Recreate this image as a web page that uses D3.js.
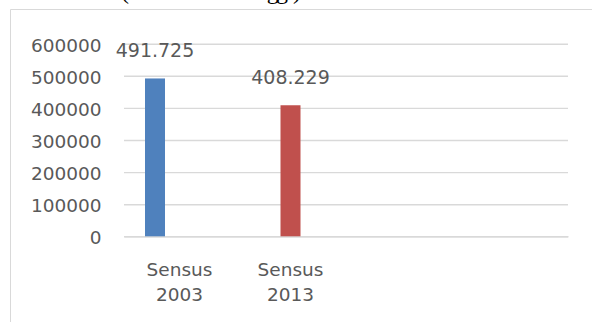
<!DOCTYPE html>
<html>
<head>
<meta charset="utf-8">
<script src="https://cdn.jsdelivr.net/npm/d3@7"></script>
<style>
  html, body { margin: 0; padding: 0; background: #fff; }
  svg { display: block; }
</style>
</head>
<body>
<svg id="chart" width="592" height="323"></svg>
<script>
// ---- data ----
const categories = ["Sensus 2003", "Sensus 2013", "", ""];
const seriesNames = ["Series 1", "Series 2", "Series 3"];
const series1 = [491725, null, null, null];
const series2 = [null, 408229, null, null];
const series3 = [null, null, null, null];
const yTicks = [0, 100000, 200000, 300000, 400000, 500000, 600000];
const seriesColors = ["#4f81bd", "#c0504d", "#9bbb59"];

const seriesValues = [series1, series2, series3];

const svg = d3.select("#chart");
const font = "'DejaVu Sans', sans-serif";
const textColor = "#595959";
const gridColor = "#d9d9d9";

// page text fragment cut off at the top (as in the reference)
svg.append("text")
  .attr("x", 121).attr("y", -1)
  .attr("textLength", 180)
  .attr("font-family", "'Liberation Serif', serif")
  .attr("font-size", 24)
  .attr("fill", "#000")
  .text("(Jumlah Rumah Tangga)");

// chart area border (top + left visible)
svg.append("line").attr("x1", 10.5).attr("x2", 600).attr("y1", 9.5).attr("y2", 9.5)
  .attr("stroke", gridColor).attr("stroke-width", 1);
svg.append("line").attr("x1", 10.5).attr("x2", 10.5).attr("y1", 9.5).attr("y2", 322)
  .attr("stroke", gridColor).attr("stroke-width", 1);

const plot = { left: 124, right: 568, top: 43.7, bottom: 236.3 };

const x0 = d3.scaleBand()
  .domain(d3.range(categories.length))
  .range([plot.left, plot.right])
  .padding(0);

const x1 = d3.scaleBand()
  .domain(seriesNames)
  .range([0, x0.bandwidth()])
  .paddingInner(0.1837)
  .paddingOuter(0.857);

const y = d3.scaleLinear()
  .domain([0, 600000])
  .range([plot.bottom, plot.top]);

// gridlines + y tick labels via axis
const yAxis = d3.axisLeft(y)
  .tickValues(yTicks)
  .tickSize(-(plot.right - plot.left))
  .tickPadding(22.5)
  .tickFormat(d3.format("d"));

const gy = svg.append("g")
  .attr("transform", `translate(${plot.left},0)`)
  .call(yAxis);
gy.select(".domain").remove();
gy.selectAll(".tick line").attr("stroke", gridColor).attr("stroke-width", 1.4);
gy.selectAll(".tick text")
  .attr("font-family", font)
  .attr("font-size", 18.5)
  .attr("fill", textColor)
  .attr("dy", "0.41em");

// x axis
const xAxis = d3.axisBottom(x0).tickSize(0).tickFormat(() => "");
const gx = svg.append("g")
  .attr("transform", `translate(0,${plot.bottom})`)
  .call(xAxis);
gx.select(".domain").attr("stroke", gridColor).attr("stroke-width", 1.4);

gx.selectAll(".tick").each(function(d) {
  const label = categories[d];
  if (!label) return;
  const words = label.split(" ");
  const t = d3.select(this).append("text")
    .attr("font-family", font)
    .attr("font-size", 18.5)
    .attr("fill", textColor)
    .attr("text-anchor", "middle");
  words.forEach((w, i) => {
    t.append("tspan").attr("x", 0).attr("y", 40 + i * 24.5).text(w);
  });
});

// bars
const fmt = d3.formatLocale({ decimal: ",", thousands: ".", grouping: [3], currency: ["", ""] }).format(",d");

const barData = [];
seriesNames.forEach((s, si) => {
  seriesValues[si].forEach((v, ci) => {
    if (v != null) barData.push({ series: s, si, ci, value: v });
  });
});

svg.append("g").selectAll("rect")
  .data(barData)
  .join("rect")
  .attr("x", d => x0(d.ci) + x1(d.series))
  .attr("width", x1.bandwidth())
  .attr("y", d => y(d.value))
  .attr("height", d => y(0) - y(d.value))
  .attr("fill", d => seriesColors[d.si]);

// data labels
svg.append("g").selectAll("text")
  .data(barData)
  .join("text")
  .attr("x", d => x0(d.ci) + x1(d.series) + x1.bandwidth() / 2)
  .attr("y", d => y(d.value) - 21)
  .attr("text-anchor", "middle")
  .attr("font-family", font)
  .attr("font-size", 19)
  .attr("fill", textColor)
  .text(d => fmt(d.value));
</script>
</body>
</html>
